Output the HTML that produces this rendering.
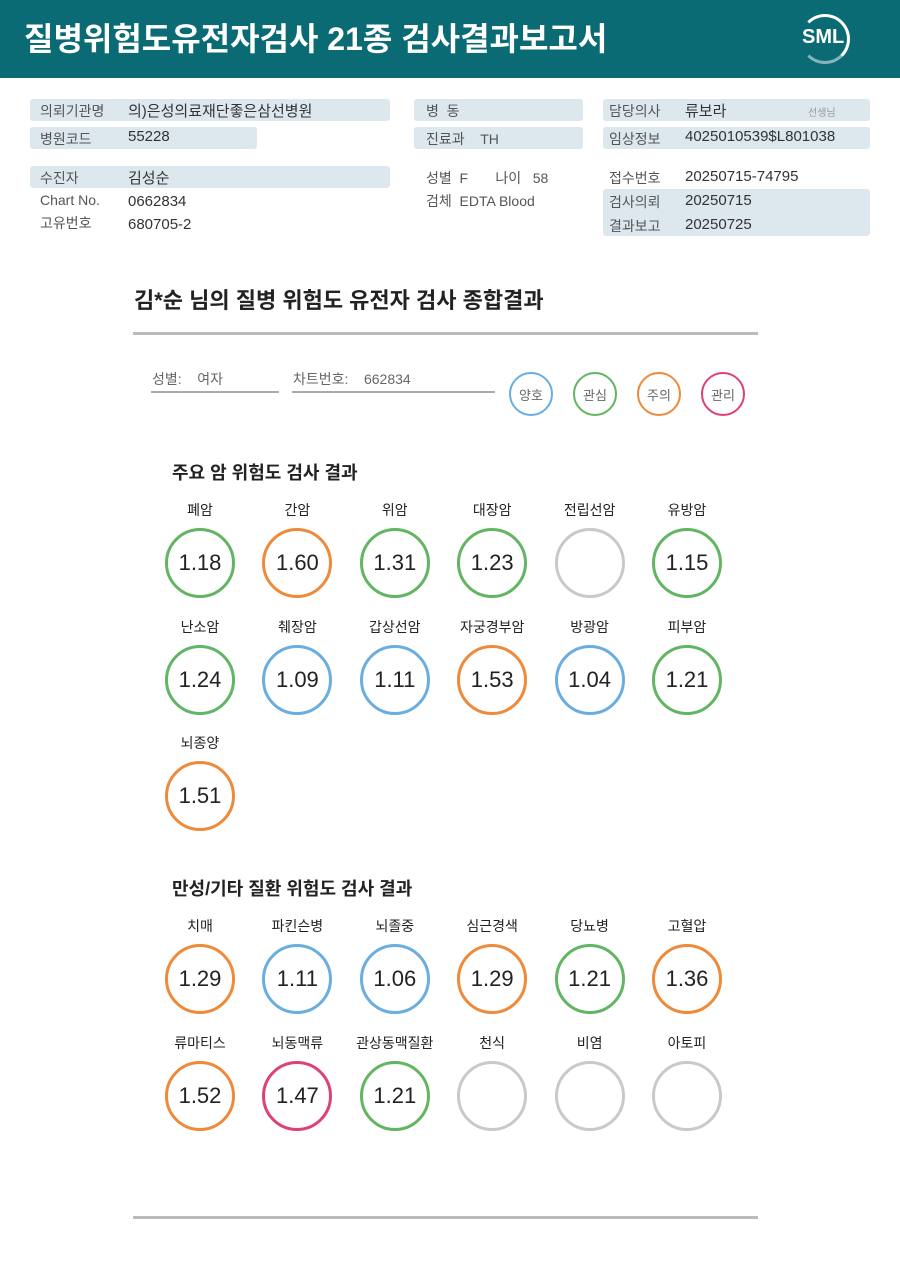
<!DOCTYPE html>
<html><head><meta charset="utf-8">
<style>
*{margin:0;padding:0;box-sizing:border-box}
body{width:900px;height:1271px;background:#fff;position:relative;overflow:hidden;font-family:"Liberation Sans","Noto Sans CJK KR",sans-serif;color:#333}
.a{position:absolute;white-space:nowrap}
.box{position:absolute;background:#dce7ee;border-radius:3px}
.lbl{font-size:14px;color:#555}
.val{font-size:15px;color:#333}
</style></head><body>
<div class="a" style="left:0;top:0;width:900px;height:78px;background:#0b6b74"></div>
<div class="a" style="left:24px;top:14px;font-size:32px;color:#fff;font-weight:bold">질병위험도유전자검사 21종 검사결과보고서</div>
<div class="a" style="left:800px;top:14px;width:50px;height:50px;border:3px solid #fff;border-radius:50%;border-left-color:transparent;border-bottom-color:rgba(255,255,255,.5)"></div>
<div class="a" style="left:802px;top:26px;font-size:20px;font-weight:bold;color:#fff">SML</div>

<div class="box" style="left:30px;top:99px;width:360px;height:22px"></div>
<div class="box" style="left:30px;top:127px;width:227px;height:22px"></div>
<div class="box" style="left:414px;top:99px;width:169px;height:22px"></div>
<div class="box" style="left:414px;top:127px;width:169px;height:22px"></div>
<div class="box" style="left:603px;top:99px;width:267px;height:22px"></div>
<div class="box" style="left:603px;top:127px;width:267px;height:22px"></div>
<div class="box" style="left:30px;top:166px;width:360px;height:22px"></div>
<div class="box" style="left:603px;top:189px;width:267px;height:47px"></div>

<div class="a lbl" style="left:40px;top:101px">의뢰기관명</div>
<div class="a val" style="left:128px;top:100px">의)은성의료재단좋은삼선병원</div>
<div class="a lbl" style="left:40px;top:129px">병원코드</div>
<div class="a val" style="left:128px;top:128px">55228</div>
<div class="a lbl" style="left:426px;top:101px">병 &nbsp;동</div>
<div class="a lbl" style="left:426px;top:129px">진료과 &nbsp;&nbsp;&nbsp;TH</div>
<div class="a lbl" style="left:609px;top:101px">담당의사</div>
<div class="a val" style="left:685px;top:100px">류보라</div>
<div class="a" style="left:808px;top:104px;font-size:10px;color:#999">선생님</div>
<div class="a lbl" style="left:609px;top:129px">임상정보</div>
<div class="a val" style="left:685px;top:128px">4025010539$L801038</div>
<div class="a lbl" style="left:40px;top:168px">수진자</div>
<div class="a val" style="left:128px;top:167px">김성순</div>
<div class="a lbl" style="left:40px;top:192px">Chart No.</div>
<div class="a val" style="left:128px;top:193px">0662834</div>
<div class="a lbl" style="left:40px;top:213px">고유번호</div>
<div class="a val" style="left:128px;top:216px">680705-2</div>
<div class="a lbl" style="left:426px;top:168px">성별 &nbsp;F &nbsp;&nbsp;&nbsp;&nbsp;&nbsp;&nbsp;나이 &nbsp;&nbsp;58</div>
<div class="a lbl" style="left:426px;top:191px">검체 &nbsp;EDTA Blood</div>
<div class="a lbl" style="left:609px;top:168px">접수번호</div>
<div class="a val" style="left:685px;top:168px">20250715-74795</div>
<div class="a lbl" style="left:609px;top:192px">검사의뢰</div>
<div class="a val" style="left:685px;top:192px">20250715</div>
<div class="a lbl" style="left:609px;top:216px">결과보고</div>
<div class="a val" style="left:685px;top:216px">20250725</div>

<div class="a" style="left:134px;top:283px;font-size:22px;font-weight:bold;color:#222">김*순 님의 질병 위험도 유전자 검사 종합결과</div>
<div class="a" style="left:133px;top:332px;width:625px;height:3px;background:#bbb"></div>
<div class="a" style="left:152px;top:369px;font-size:14px;color:#666">성별: &nbsp;&nbsp;&nbsp;여자</div>
<div class="a" style="left:151px;top:391px;width:128px;height:2px;background:#aaa"></div>
<div class="a" style="left:293px;top:369px;font-size:14px;color:#666">차트번호: &nbsp;&nbsp;&nbsp;662834</div>
<div class="a" style="left:292px;top:391px;width:203px;height:2px;background:#aaa"></div>
<div id="legend"></div>
<div class="a" style="left:172px;top:459px;font-size:18px;font-weight:bold;color:#222">주요 암 위험도 검사 결과</div>
<div class="a" style="left:172px;top:875px;font-size:18px;font-weight:bold;color:#222">만성/기타 질환 위험도 검사 결과</div>
<div class="a" style="left:133px;top:1216px;width:625px;height:3px;background:#bbb"></div>
<div id="marks"></div>
<script>
const cancerNames=["폐암","간암","위암","대장암","전립선암","유방암","난소암","췌장암","갑상선암","자궁경부암","방광암","피부암","뇌종양"];
const cancerValues=["1.18","1.60","1.31","1.23","","1.15","1.24","1.09","1.11","1.53","1.04","1.21","1.51"];
const cancerStatus=["관심","주의","관심","관심","none","관심","관심","양호","양호","주의","양호","관심","주의"];
const chronicNames=["치매","파킨슨병","뇌졸중","심근경색","당뇨병","고혈압","류마티스","뇌동맥류","관상동맥질환","천식","비염","아토피"];
const chronicValues=["1.29","1.11","1.06","1.29","1.21","1.36","1.52","1.47","1.21","","",""];
const chronicStatus=["주의","양호","양호","주의","관심","주의","주의","관리","관심","none","none","none"];
const legendLabels=["양호","관심","주의","관리"];
const colors={"양호":"#6aaee0","관심":"#62b562","주의":"#ee8a3a","관리":"#e0407a","none":"#c9c9c9"};
const lg=document.getElementById('legend');
legendLabels.forEach((l,i)=>{const d=document.createElement('div');


d.className='a';d.style.cssText=`left:${509+i*64}px;top:372px;width:44px;height:44px;border:2.5px solid ${colors[l]};border-radius:50%;font-size:13px;color:#666;display:flex;align-items:center;justify-content:center`;d.textContent=l;lg.appendChild(d);});
const m=document.getElementById('marks');
function draw(names,vals,st,y0){names.forEach((n,i)=>{const col=i%6,row=Math.floor(i/6);const cx=200+col*97.4,cy=y0+row*116.5;
const t=document.createElement('div');


t.className='a';t.style.cssText=`left:${cx-60}px;width:120px;text-align:center;top:${cy-63}px;font-size:14px;color:#222`;t.textContent=n;m.appendChild(t);
const c=document.createElement('div');


c.className='a';c.style.cssText=`left:${cx-35}px;top:${cy-35}px;width:70px;height:70px;border:3.5px solid ${colors[st[i]]};border-radius:50%;font-size:22px;color:#222;display:flex;align-items:center;justify-content:center`;c.textContent=vals[i];m.appendChild(c);});}
draw(cancerNames,cancerValues,cancerStatus,563);
draw(chronicNames,chronicValues,chronicStatus,979);
</script>
</body></html>
